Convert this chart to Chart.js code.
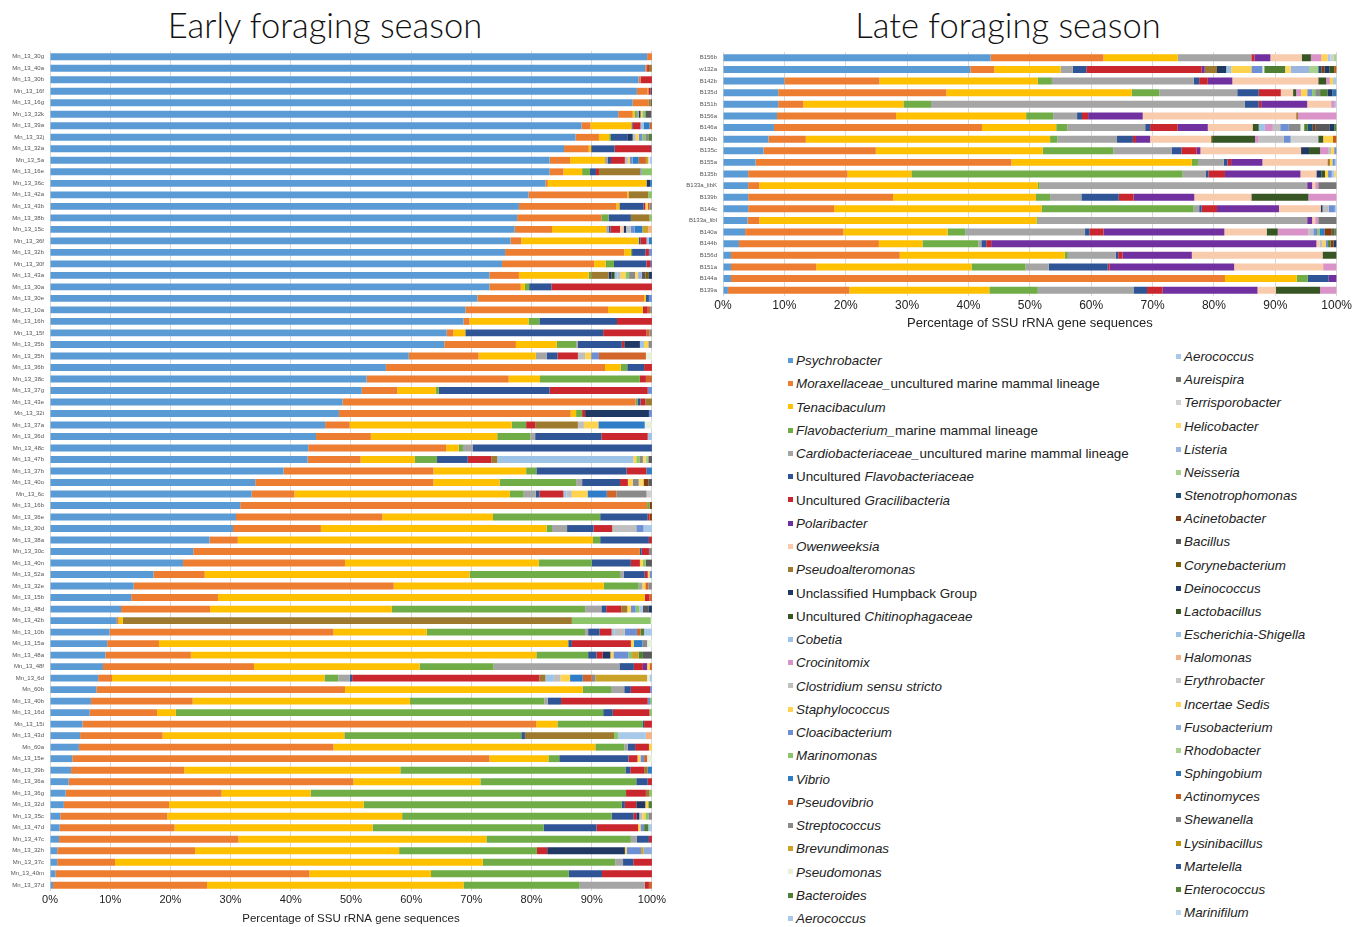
<!DOCTYPE html>
<html lang="en">
<head>
<meta charset="UTF-8" />
<title>Early and late foraging season</title>
<style>
  body { margin: 0; background: #fff; font-family: 'Helvetica Neue', 'Liberation Sans', Arial, sans-serif; color: #111; }
  .page { position: relative; width: 1361px; height: 927px; overflow: hidden; }
  h1 {
    position: absolute; top: 2px; margin: 0; width: 600px; text-align: center;
    font-family: Lato, 'Liberation Sans', sans-serif; font-weight: 300; font-size: 34.5px; line-height: 46px; color: #111;
  }
  canvas { position: absolute; }
  .legend-item { position: absolute; font-size: 13.4px; line-height: 16px; white-space: nowrap; color: #222; }
  .legend-item .sw { display: inline-block; width: 5px; height: 5px; margin-right: 3px; vertical-align: middle; position: relative; top: -1px; }
</style>
</head>
<body>
<div class="page" id="page">
  <h1 style="left:25px">Early foraging season</h1>
  <h1 style="left:708px">Late foraging season</h1>
  <canvas id="earlyChart" width="668" height="895" style="left:0;top:40px"></canvas>
  <canvas id="lateChart" width="674" height="300" style="left:680px;top:40px"></canvas>
</div>

<script src="https://cdn.jsdelivr.net/npm/chart.js"></script>
<script>
// taxa in legend order (stack order too)
const taxa = ['Psychrobacter', 'Moraxellaceae_uncultured marine mammal lineage', 'Tenacibaculum',
  'Flavobacterium_marine mammal lineage', 'Cardiobacteriaceae_uncultured marine mammal lineage',
  'Uncultured Flavobacteriaceae', 'Uncultured Gracilibacteria', 'Polaribacter', 'Owenweeksia',
  'Pseudoalteromonas', 'Unclassified Humpback Group', 'Uncultured Chitinophagaceae', 'Cobetia',
  'Crocinitomix', 'Clostridium sensu stricto', 'Staphylococcus', 'Cloacibacterium', 'Marinomonas',
  'Vibrio', 'Pseudovibrio', 'Streptococcus', 'Brevundimonas', 'Pseudomonas', 'Bacteroides',
  'Aerococcus', 'Aerococcus', 'Aureispira', 'Terrisporobacter', 'Helicobacter', 'Listeria',
  'Neisseria', 'Stenotrophomonas', 'Acinetobacter', 'Bacillus', 'Corynebacterium', 'Deinococcus',
  'Lactobacillus', 'Escherichia-Shigella', 'Halomonas', 'Erythrobacter', 'Incertae Sedis',
  'Fusobacterium', 'Rhodobacter', 'Sphingobium', 'Actinomyces', 'Shewanella', 'Lysinibacillus',
  'Martelella', 'Enterococcus', 'Marinifilum'];

const taxonColors = ['#5b9bd5', '#ed7d31', '#ffc000', '#70ad47', '#a5a5a5', '#2f5597', '#c9262d',
  '#7030a0', '#f8cbad', '#9e7a2f', '#203864', '#375623', '#9dc3e6', '#d993c8', '#bfbfbf', '#ffd34d',
  '#6f8fd4', '#8cc46a', '#2e7dc6', '#d2652a', '#8a8a8a', '#c9a227', '#e6f0dc', '#4e7f33', '#a9c9ea',
  '#a9c9ea', '#777777', '#d0d0d0', '#ffd966', '#9bb5e0', '#a9d18e', '#1f4e79', '#843c0c', '#595959',
  '#7f6000', '#1f3864', '#385723', '#9dc3e6', '#f4b183', '#c9c9c9', '#ffd34d', '#8faadc', '#a9d18e',
  '#2e75b6', '#c55a11', '#7f7f7f', '#bf9000', '#2f5597', '#548235', '#bdd7ee'];

const earlySamples = ['Mn_13_30g','Mn_13_40a','Mn_13_30b','Mn_13_16f','Mn_13_16g','Mn_13_32k','Mn_13_39a','Mn_13_32j','Mn_13_32a','Mn_13_5a',
  'Mn_13_16e','Mn_13_36c','Mn_13_42a','Mn_13_43b','Mn_13_38b','Mn_13_15c','Mn_13_36f','Mn_13_32b','Mn_13_30f','Mn_13_43a',
  'Mn_13_30a','Mn_13_30e','Mn_13_10a','Mn_13_16h','Mn_13_15f','Mn_13_35b','Mn_13_35h','Mn_13_36b','Mn_13_38c','Mn_13_37g',
  'Mn_13_43e','Mn_13_32i','Mn_13_37a','Mn_13_36d','Mn_13_48c','Mn_13_47b','Mn_13_37b','Mn_13_40o','Mn_13_6c','Mn_13_16b',
  'Mn_13_36e','Mn_13_30d','Mn_13_38a','Mn_13_30c','Mn_13_40n','Mn_13_52a','Mn_13_32e','Mn_13_15b','Mn_13_48d','Mn_13_42b',
  'Mn_13_10b','Mn_13_15a','Mn_13_48a','Mn_13_48f','Mn_13_6d','Mn_60b','Mn_13_40b','Mn_13_16d','Mn_13_15i','Mn_13_43d',
  'Mn_60a','Mn_13_15e','Mn_13_39b','Mn_13_36a','Mn_13_36g','Mn_13_32d','Mn_13_35c','Mn_13_47d','Mn_13_47c','Mn_13_32h',
  'Mn_13_37c','Mn_13_40m','Mn_13_37d'];

const earlyPsychrobacter = [99.2,98.9,97.8,97.5,96.8,94.4,88.3,87.3,85.4,83.0,
  83.0,82.3,79.5,77.9,77.6,77.2,76.5,75.6,75.1,73.0,
  73.0,71.0,69.0,68.7,65.9,65.5,59.6,55.8,52.6,51.8,
  48.6,48.0,45.7,44.2,42.9,42.8,38.8,34.1,33.5,31.6,
  30.9,30.4,26.5,23.8,22.1,17.2,13.9,13.5,11.8,11.1,
  9.9,9.5,9.2,8.8,8.0,7.7,6.8,6.6,5.4,5.0,
  4.8,3.7,3.5,3.1,2.6,2.3,1.7,1.6,1.5,1.2,
  1.2,0.9,0.5];
const earlyMoraxellaceae = [0.8,0.3,0.3,1.8,2.6,2.4,1.5,3.9,4.1,3.4,
  2.3,0.4,16.4,16.2,14.0,6.2,1.8,19.8,15.3,4.9,
  5.2,27.7,23.7,1.0,1.1,11.9,11.6,36.4,23.6,5.9,
  48.7,38.5,4.1,9.1,22.9,8.8,24.9,29.6,7.1,67.6,
  24.3,14.6,4.7,74.2,26.9,8.5,43.2,14.4,14.8,0.3,
  37.2,8.6,14.2,25.1,2.3,41.3,16.9,11.2,75.4,13.7,
  42.3,69.3,18.8,47.3,25.9,17.5,17.8,19.1,29.8,22.9,
  9.6,42.2,25.6];
const earlyTenacibaculum = [0,0,0,0.1,0,0.3,6.8,1.7,0.4,5.8,
  3.1,16.4,0.2,0.5,0,9.0,19.5,1.1,1.9,11.6,
  0.7,0.3,5.8,9.8,2.0,6.8,9.5,2.6,5.2,6.4,
  0,0.9,26.9,21.0,2.1,9.0,15.4,11.0,35.8,0,
  18.4,37.5,59.0,0,32.2,44.0,34.9,70.9,30.2,0.7,
  15.5,68.0,57.4,27.5,35.3,39.5,36.1,3.1,3.5,30.2,
  43.5,9.8,35.9,21.1,14.8,32.3,39.0,32.9,41.2,33.9,
  61.1,20.2,42.6];
const earlyFlavobacterium = [0,0,0,0,0,0.4,0,0.3,0,0,
  1.3,0,0,0,1.2,0,0,0.2,1.4,0.4,
  0.7,0,0,1.8,0,3.2,0,1.1,16.6,0.5,
  0.3,1.0,2.4,5.5,0.7,3.7,1.7,12.7,2.3,0.4,
  17.8,0.9,1.2,0,8.8,25.0,5.8,0,32.1,0,
  26.3,0,8.6,12.3,2.3,4.7,22.3,71.0,14.2,29.4,
  4.8,1.8,37.4,25.9,52.4,42.9,34.8,28.4,24.0,22.9,
  22.0,22.9,19.3];
const earlyCardiobacteriaceae = [0,0,0,0,0,0.3,0,0,0,0.5,
  0,0,0,0,0,0.4,0,0,0,0,
  0,0,0,0,0,0.3,1.8,0,0,0,
  0,0,0,0.8,1.6,0,0,1.0,2.0,0,
  0,2.5,0,0,0,0.6,0.6,0,2.7,0,
  0.5,0,0,20.9,1.9,2.2,0.6,0,0,0,
  0.6,0,0,0,0,0,0,0,1.0,0,
  1.3,0,10.8];
const earlyUncFlavobacteriaceae = [0,0,0,0,0,0,0.2,2.7,3.9,0.5,
  1.0,0,0,4.0,3.7,0.3,0.3,2.2,5.4,0,
  3.7,0.5,0,12.9,22.9,7.3,1.8,2.8,0,18.4,
  0.5,0,0,11.0,29.8,5.1,15.0,6.3,0.6,0,
  7.9,4.4,8.1,0.3,6.5,3.5,0,0,0.8,0,
  1.9,0.6,1.4,2.4,0.4,1.1,2.2,1.6,0.2,0.6,
  1.2,11.5,0.8,1.9,0,0.5,3.6,8.8,2.0,0,
  1.7,5.5,0];
const earlyGracilibacteria = [0,0.3,1.9,0.4,0,0,1.3,0,6.1,2.3,
  0.5,0,0,0.3,0,1.6,1.0,0.6,0.7,0,
  16.7,0,0.8,5.8,7.2,0.4,3.4,1.3,1.0,16.3,
  0.8,0.5,1.5,7.7,0,3.9,3.3,1.3,4.0,0,
  0.3,3.1,0.5,1.2,1.5,0.5,0,0.8,2.5,0,
  2.0,9.8,1.0,1.5,31.1,3.2,14.4,6.1,1.3,0,
  2.3,1.5,2.3,0.7,3.3,1.9,0.5,6.9,0.5,1.7,
  3.1,8.3,0.7];
const earlyPseudoalteromonas = [0,0.5,0,0,0.4,0,0,0,0,0,
  6.9,0,3.3,0,3.1,0,0,0,0,2.9,
  0,0,0,0,0,0,0,0,0,0,
  1.1,0,7.1,0,0,1.0,0,0,0,0,
  0,0,0,0,0,0,0,0,1.0,74.6,
  0,0,0,0,1.0,0,0,0,0,14.8,
  0,0,0.6,0,0.6,0,0,0,0,0,
  0,0,0];
const earlyHumpback = [0,0,0,0,0,0.3,0,0.9,0,0,
  0,0.6,0,0,0,0.4,0,0,0,0.5,
  0,0,0,0,0,2.6,0,0,0,0,
  0,10.6,0,0,0,0,0,0,0,0,
  0,0,0,0,0,0,0,0,0,0,
  0,0,1.3,0,0,0,0,0,0,0,
  0,0,0,0,0,1.5,0.5,0,0,12.9,
  0,0,0];

// small slivers: [sample, taxon, percent]
const earlyMinor = [
  ['Mn_13_16f','Stenotrophomonas',0.2], ['Mn_13_16g','Bacillus',0.2],
  ['Mn_13_32k','Staphylococcus',0.3], ['Mn_13_32k','Marinomonas',0.5], ['Mn_13_32k','Bacillus',1.0],
  ['Mn_13_39a','Cobetia',0.5], ['Mn_13_39a','Vibrio',1.0], ['Mn_13_39a','Pseudovibrio',0.4],
  ['Mn_13_32j','Clostridium sensu stricto',0.5], ['Mn_13_32j','Staphylococcus',0.5], ['Mn_13_32j','Cloacibacterium',0.6],
  ['Mn_13_32j','Marinomonas',0.5], ['Mn_13_32j','Streptococcus',0.6], ['Mn_13_32j','Bacteroides',0.5],
  ['Mn_13_32a','Vibrio',0.1],
  ['Mn_13_5a','Clostridium sensu stricto',0.5], ['Mn_13_5a','Staphylococcus',0.3], ['Mn_13_5a','Cloacibacterium',0.5],
  ['Mn_13_5a','Vibrio',1.0], ['Mn_13_5a','Pseudovibrio',1.2], ['Mn_13_5a','Brevundimonas',0.4],
  ['Mn_13_5a','Pseudomonas',0.2], ['Mn_13_5a','Aerococcus',0.4],
  ['Mn_13_16e','Cloacibacterium',0.2], ['Mn_13_16e','Marinomonas',1.7],
  ['Mn_13_36c','Vibrio',0.3], ['Mn_13_42a','Marinomonas',0.6],
  ['Mn_13_43b','Staphylococcus',0.4], ['Mn_13_43b','Pseudovibrio',0.3], ['Mn_13_43b','Streptococcus',0.4],
  ['Mn_13_38b','Marinomonas',0.4],
  ['Mn_13_15c','Owenweeksia',0.6], ['Mn_13_15c','Clostridium sensu stricto',0.8], ['Mn_13_15c','Cloacibacterium',0.6],
  ['Mn_13_15c','Vibrio',1.3], ['Mn_13_15c','Brevundimonas',1.0], ['Mn_13_15c','Halomonas',0.6],
  ['Mn_13_36f','Cobetia',0.4], ['Mn_13_36f','Vibrio',0.5],
  ['Mn_13_32b','Cloacibacterium',0.5], ['Mn_13_30f','Vibrio',0.2],
  ['Mn_13_43a','Uncultured Chitinophagaceae',0.5], ['Mn_13_43a','Cobetia',0.5], ['Mn_13_43a','Clostridium sensu stricto',0.5],
  ['Mn_13_43a','Staphylococcus',0.8], ['Mn_13_43a','Marinomonas',0.6], ['Mn_13_43a','Streptococcus',1.0],
  ['Mn_13_43a','Helicobacter',0.5], ['Mn_13_43a','Listeria',0.6], ['Mn_13_43a','Bacillus',0.6],
  ['Mn_13_43a','Corynebacterium',0.5], ['Mn_13_43a','Deinococcus',0.6],
  ['Mn_13_30e','Cloacibacterium',0.5],
  ['Mn_13_10a','Pseudovibrio',0.4], ['Mn_13_10a','Streptococcus',0.3],
  ['Mn_13_15f','Pseudovibrio',0.5], ['Mn_13_15f','Streptococcus',0.4],
  ['Mn_13_35b','Cobetia',0.7], ['Mn_13_35b','Staphylococcus',0.7], ['Mn_13_35b','Streptococcus',0.6],
  ['Mn_13_35h','Clostridium sensu stricto',1.2], ['Mn_13_35h','Staphylococcus',1.0], ['Mn_13_35h','Cloacibacterium',1.3],
  ['Mn_13_35h','Pseudovibrio',7.8], ['Mn_13_35h','Pseudomonas',1.0],
  ['Mn_13_38c','Pseudovibrio',1.0], ['Mn_13_37g','Cloacibacterium',0.7], ['Mn_13_32i','Cloacibacterium',0.5],
  ['Mn_13_37a','Clostridium sensu stricto',1.0], ['Mn_13_37a','Staphylococcus',2.4], ['Mn_13_37a','Vibrio',7.7],
  ['Mn_13_37a','Pseudomonas',1.2],
  ['Mn_13_36d','Cobetia',0.7],
  ['Mn_13_47b','Cobetia',22.6], ['Mn_13_47b','Staphylococcus',0.5], ['Mn_13_47b','Marinomonas',0.6],
  ['Mn_13_47b','Streptococcus',0.5], ['Mn_13_47b','Helicobacter',0.5], ['Mn_13_47b','Neisseria',0.4], ['Mn_13_47b','Bacillus',0.6],
  ['Mn_13_37b','Vibrio',0.9],
  ['Mn_13_40o','Staphylococcus',0.8], ['Mn_13_40o','Streptococcus',1.0], ['Mn_13_40o','Helicobacter',0.8],
  ['Mn_13_40o','Acinetobacter',0.8], ['Mn_13_40o','Bacillus',0.6],
  ['Mn_13_6c','Cobetia',0.5], ['Mn_13_6c','Clostridium sensu stricto',0.9], ['Mn_13_6c','Staphylococcus',2.6],
  ['Mn_13_6c','Vibrio',3.2], ['Mn_13_6c','Pseudovibrio',1.6], ['Mn_13_6c','Streptococcus',5.0], ['Mn_13_6c','Terrisporobacter',0.9],
  ['Mn_13_16b','Acinetobacter',0.4], ['Mn_13_36e','Acinetobacter',0.4],
  ['Mn_13_30d','Clostridium sensu stricto',4.0], ['Mn_13_30d','Cloacibacterium',1.2], ['Mn_13_30d','Aerococcus',1.4],
  ['Mn_13_30c','Streptococcus',0.5],
  ['Mn_13_40n','Staphylococcus',0.5], ['Mn_13_40n','Marinomonas',0.5], ['Mn_13_40n','Bacillus',1.0],
  ['Mn_13_52a','Staphylococcus',0.3], ['Mn_13_52a','Cloacibacterium',0.4],
  ['Mn_13_32e','Staphylococcus',0.5], ['Mn_13_32e','Pseudovibrio',0.5], ['Mn_13_32e','Streptococcus',0.6],
  ['Mn_13_15b','Pseudovibrio',0.4],
  ['Mn_13_48d','Staphylococcus',0.6], ['Mn_13_48d','Cloacibacterium',0.8], ['Mn_13_48d','Marinomonas',0.6],
  ['Mn_13_48d','Aerococcus',0.6], ['Mn_13_48d','Bacillus',0.9], ['Mn_13_48d','Deinococcus',0.6],
  ['Mn_13_42b','Marinomonas',13.1], ['Mn_13_42b','Pseudomonas',0.2],
  ['Mn_13_10b','Cobetia',0.5], ['Mn_13_10b','Clostridium sensu stricto',1.7], ['Mn_13_10b','Cloacibacterium',2.0],
  ['Mn_13_10b','Pseudovibrio',0.6], ['Mn_13_10b','Bacteroides',0.6], ['Mn_13_10b','Aerococcus',1.3],
  ['Mn_13_15a','Staphylococcus',0.5], ['Mn_13_15a','Vibrio',1.4], ['Mn_13_15a','Streptococcus',0.8], ['Mn_13_15a','Pseudomonas',0.8],
  ['Mn_13_48a','Staphylococcus',0.5], ['Mn_13_48a','Cloacibacterium',2.5], ['Mn_13_48a','Marinomonas',0.6],
  ['Mn_13_48a','Brevundimonas',1.1], ['Mn_13_48a','Bacteroides',0.7], ['Mn_13_48a','Bacillus',1.5],
  ['Mn_13_48f','Polaribacter',0.7], ['Mn_13_48f','Staphylococcus',0.4], ['Mn_13_48f','Pseudovibrio',0.4],
  ['Mn_13_6d','Cobetia',1.4], ['Mn_13_6d','Clostridium sensu stricto',1.1], ['Mn_13_6d','Staphylococcus',1.6],
  ['Mn_13_6d','Vibrio',2.1], ['Mn_13_6d','Pseudovibrio',1.5], ['Mn_13_6d','Streptococcus',0.6],
  ['Mn_13_6d','Brevundimonas',8.6], ['Mn_13_6d','Pseudomonas',0.4], ['Mn_13_6d','Aerococcus',0.4],
  ['Mn_60b','Cloacibacterium',0.3],
  ['Mn_13_40b','Cloacibacterium',0.4], ['Mn_13_40b','Marinomonas',0.3], ['Mn_13_16d','Marinomonas',0.4],
  ['Mn_13_43d','Marinomonas',0.7], ['Mn_13_43d','Aerococcus',4.6], ['Mn_13_43d','Halomonas',1.0],
  ['Mn_60a','Staphylococcus',0.5],
  ['Mn_13_15e','Staphylococcus',0.5], ['Mn_13_15e','Cloacibacterium',0.6], ['Mn_13_15e','Pseudovibrio',0.5], ['Mn_13_15e','Pseudomonas',0.8],
  ['Mn_13_39b','Vibrio',0.7], ['Mn_13_36g','Marinomonas',0.4],
  ['Mn_13_32d','Staphylococcus',0.5], ['Mn_13_32d','Bacteroides',0.6],
  ['Mn_13_35c','Clostridium sensu stricto',0.5], ['Mn_13_35c','Staphylococcus',0.5], ['Mn_13_35c','Marinomonas',0.5], ['Mn_13_35c','Streptococcus',0.6],
  ['Mn_13_47d','Staphylococcus',0.4], ['Mn_13_47d','Cloacibacterium',0.6], ['Mn_13_47d','Bacteroides',0.7], ['Mn_13_47d','Aerococcus',0.6],
  ['Mn_13_32h','Staphylococcus',0.3], ['Mn_13_32h','Cloacibacterium',2.4], ['Mn_13_32h','Brevundimonas',0.4], ['Mn_13_32h','Fusobacterium',1.4],
  ['Mn_13_37d','Pseudovibrio',0.5]
];

const lateSamples = ['B156b','w132a','B142b','B135d','B151b','B156a','B146a','B140b','B135c','B155a','B135b',
  'B133a_libK','B139b','B144c','B133a_libl','B140a','B144b','B156d','B151a','B144a','B139a'];

const latePsychrobacter = [43.6,40.3,10.0,9.0,9.0,8.8,8.3,7.4,6.6,5.3,4.1,4.1,4.1,4.1,4.0,3.6,2.6,1.3,1.3,1.3,0.8];
const lateMoraxellaceae = [18.4,3.9,15.5,27.4,4.1,19.4,33.9,6.1,18.3,41.7,16.2,1.8,23.6,14.0,1.9,16.0,22.8,27.5,13.9,80.5,19.8];
const lateTenacibaculum = [12.1,10.8,25.8,30.2,16.3,21.2,12.1,39.8,27.2,29.4,10.4,45.4,23.3,33.8,45.2,17.0,7.1,26.9,25.3,11.7,22.8];
const lateFlavobacterium = [0,0,2.3,4.5,4.5,4.4,1.8,1.2,11.5,1.0,44.2,0.3,2.3,24.8,0.2,2.9,9.1,0.5,8.8,1.8,7.9];
const lateCardiobacteriaceae = [12.0,2.0,23.1,12.7,51.1,3.9,12.7,9.7,9.5,4.2,3.8,43.6,5.1,0.9,43.9,19.5,0.5,7.8,3.8,0,15.6];
const lateUncFlavobacteriaceae = [0,2.2,0.9,3.5,2.3,0.8,0.8,2.6,1.6,0.6,0.4,0,6.1,0.4,0,0.7,0.8,0.4,9.6,3.4,2.2];
const lateGracilibacteria = [0.5,18.8,1.4,3.6,0.4,1.0,4.5,0.5,2.5,0.6,2.7,0,2.4,2.5,0,2.3,0.8,0.7,0.3,0,2.5];
const latePolaribacter = [2.6,0.5,4.0,0,7.5,8.9,4.9,2.3,0.6,5.1,12.3,0.8,9.9,10.1,0.8,19.7,53.0,11.3,20.3,1.3,15.5];
const lateOwenweeksia = [5.1,0,14.0,2.0,3.9,25.0,7.3,9.9,16.4,10.6,2.6,0.5,9.3,6.8,0.5,6.9,0.5,21.3,14.5,0,3.0];
const lateChitinophagaceae = [1.5,0,1.3,0.5,0,0,1.0,7.0,1.8,0,0.6,0,9.3,0,0,1.8,0,2.3,0,0,7.2];
const lateCrocinitomix = [1.7,0,0.6,0.8,0.6,6.3,1.3,0.6,1.3,0,0,0.5,4.6,0,0.5,5.0,0,0,2.2,0,2.7];

const lateMinor = [
  ['B156b','Staphylococcus',1.0], ['B156b','Aerococcus',0.5], ['B156b','Terrisporobacter',0.5], ['B156b','Neisseria',0.5],
  ['w132a','Pseudoalteromonas',2.0], ['w132a','Unclassified Humpback Group',1.5], ['w132a','Cobetia',0.8],
  ['w132a','Staphylococcus',3.3], ['w132a','Cloacibacterium',1.8], ['w132a','Pseudomonas',0.3], ['w132a','Bacteroides',3.4],
  ['w132a','Helicobacter',0.9], ['w132a','Listeria',3.0], ['w132a','Neisseria',1.5], ['w132a','Stenotrophomonas',0.5],
  ['w132a','Acinetobacter',0.5], ['w132a','Deinococcus',0.8], ['w132a','Lactobacillus',0.8], ['w132a','Actinomyces',0.4],
  ['B142b','Staphylococcus',0.5], ['B142b','Aerococcus',0.6],
  ['B135d','Staphylococcus',1.0], ['B135d','Cloacibacterium',0.8], ['B135d','Marinomonas',0.5], ['B135d','Streptococcus',0.8],
  ['B135d','Bacteroides',1.2], ['B135d','Deinococcus',0.8], ['B135d','Sphingobium',0.7],
  ['B151b','Aerococcus',0.3], ['B156a','Pseudoalteromonas',0.3],
  ['B146a','Cobetia',1.0], ['B146a','Clostridium sensu stricto',1.2], ['B146a','Cloacibacterium',1.4], ['B146a','Streptococcus',1.9],
  ['B146a','Pseudomonas',0.6], ['B146a','Bacteroides',0.6], ['B146a','Stenotrophomonas',0.8], ['B146a','Acinetobacter',0.4],
  ['B146a','Bacillus',2.3], ['B146a','Deinococcus',0.8], ['B146a','Enterococcus',0.4],
  ['B140b','Pseudoalteromonas',0.2], ['B140b','Clostridium sensu stricto',4.1], ['B140b','Cloacibacterium',1.1],
  ['B140b','Terrisporobacter',4.5], ['B140b','Lactobacillus',0.8], ['B140b','Incertae Sedis',1.6], ['B140b','Actinomyces',0.6],
  ['B135c','Unclassified Humpback Group',1.3], ['B135c','Clostridium sensu stricto',0.5], ['B135c','Staphylococcus',0.5], ['B135c','Cloacibacterium',0.4],
  ['B155a','Pseudoalteromonas',0.4], ['B155a','Staphylococcus',0.4], ['B155a','Cloacibacterium',0.4], ['B155a','Aerococcus',0.3],
  ['B135b','Unclassified Humpback Group',0.8], ['B135b','Staphylococcus',0.5], ['B135b','Cloacibacterium',0.6],
  ['B135b','Aerococcus',0.4], ['B135b','Helicobacter',0.4],
  ['B133a_libK','Aureispira',3.0],
  ['B144c','Unclassified Humpback Group',0.3], ['B144c','Clostridium sensu stricto',1.0], ['B144c','Cloacibacterium',1.0], ['B144c','Aerococcus',0.3],
  ['B133a_libl','Aureispira',3.0],
  ['B140a','Clostridium sensu stricto',0.8], ['B140a','Cloacibacterium',0.6], ['B140a','Marinomonas',0.4], ['B140a','Vibrio',0.8],
  ['B140a','Acinetobacter',1.2], ['B140a','Bacillus',0.4], ['B140a','Enterococcus',0.4],
  ['B144b','Clostridium sensu stricto',0.5], ['B144b','Staphylococcus',0.5], ['B144b','Cloacibacterium',0.4],
  ['B144b','Bacteroides',0.4], ['B144b','Acinetobacter',0.5], ['B144b','Deinococcus',0.5]
];

const axisTitle = 'Percentage of SSU rRNA gene sequences';

function buildDatasets(samples, main, minor) {
  const rows = taxa.map(() => samples.map(() => 0));
  Object.keys(main).forEach(name => { rows[taxa.indexOf(name)] = main[name].slice(); });
  minor.forEach(([s, name, v]) => { rows[taxa.indexOf(name)][samples.indexOf(s)] += v; });
  return taxa.map((name, i) => ({
    label: name,
    data: rows[i],
    backgroundColor: taxonColors[i],
    borderWidth: 0,
    barPercentage: 0.6,
    categoryPercentage: 1
  })).filter(d => d.data.some(v => v > 0));
}

Chart.defaults.font.family = "'Helvetica Neue', 'Liberation Sans', Arial, sans-serif";
Chart.defaults.color = '#222';

function makeChart(id, samples, datasets, cfg) {
  return new Chart(document.getElementById(id), {
    type: 'bar',
    data: { labels: samples, datasets: datasets },
    options: {
      indexAxis: 'y',
      responsive: false,
      animation: false,
      layout: { padding: { top: cfg.padTop, right: 0, left: 0, bottom: 0 } },
      plugins: { legend: { display: false }, tooltip: { enabled: false } },
      scales: {
        x: {
          stacked: true, min: 0, max: 100,
          grid: { color: '#d9d9d9', drawTicks: false },
          border: { display: false },
          ticks: { stepSize: 10, padding: 2, font: { size: cfg.tickSize }, color: '#222', callback: v => v + '%' },
          title: { display: true, text: axisTitle, font: { size: cfg.titleSize }, color: '#222', padding: { top: 0, bottom: cfg.titlePad } },
          afterFit: s => { s.height = cfg.xHeight; }
        },
        y: {
          stacked: true,
          grid: { display: false, drawTicks: false },
          border: { display: false },
          ticks: { autoSkip: false, padding: 6, font: { size: 6 }, color: '#555' },
          afterFit: s => { s.width = cfg.yWidth; }
        }
      }
    }
  });
}

const earlyDatasets = buildDatasets(earlySamples, {
  'Psychrobacter': earlyPsychrobacter,
  'Moraxellaceae_uncultured marine mammal lineage': earlyMoraxellaceae,
  'Tenacibaculum': earlyTenacibaculum,
  'Flavobacterium_marine mammal lineage': earlyFlavobacterium,
  'Cardiobacteriaceae_uncultured marine mammal lineage': earlyCardiobacteriaceae,
  'Uncultured Flavobacteriaceae': earlyUncFlavobacteriaceae,
  'Uncultured Gracilibacteria': earlyGracilibacteria,
  'Pseudoalteromonas': earlyPseudoalteromonas,
  'Unclassified Humpback Group': earlyHumpback
}, earlyMinor);

const lateDatasets = buildDatasets(lateSamples, {
  'Psychrobacter': latePsychrobacter,
  'Moraxellaceae_uncultured marine mammal lineage': lateMoraxellaceae,
  'Tenacibaculum': lateTenacibaculum,
  'Flavobacterium_marine mammal lineage': lateFlavobacterium,
  'Cardiobacteriaceae_uncultured marine mammal lineage': lateCardiobacteriaceae,
  'Uncultured Flavobacteriaceae': lateUncFlavobacteriaceae,
  'Uncultured Gracilibacteria': lateGracilibacteria,
  'Polaribacter': latePolaribacter,
  'Owenweeksia': lateOwenweeksia,
  'Uncultured Chitinophagaceae': lateChitinophagaceae,
  'Crocinitomix': lateCrocinitomix
}, lateMinor);

makeChart('earlyChart', earlySamples, earlyDatasets,
  { padTop: 11, tickSize: 11, titleSize: 11.5, titlePad: 9, xHeight: 44, yWidth: 50 });
makeChart('lateChart', lateSamples, lateDatasets,
  { padTop: 12, tickSize: 12, titleSize: 13, titlePad: 9, xHeight: 44, yWidth: 43 });

// legend, two columns
function legendLabel(name) {
  if (name === 'Unclassified Humpback Group') return name;
  if (name.indexOf('Uncultured ') === 0) return 'Uncultured <i>' + name.slice(11) + '</i>';
  const u = name.indexOf('_');
  if (u > 0) return '<i>' + name.slice(0, u + 1) + '</i>' + name.slice(u + 1);
  return '<i>' + name + '</i>';
}

const page = document.getElementById('page');
taxa.forEach((name, i) => {
  const col = i < 25 ? 0 : 1;
  const row = col ? i - 25 : i;
  const el = document.createElement('div');
  el.className = 'legend-item';
  el.style.left = (col ? 1176 : 788) + 'px';
  el.style.top = ((col ? 357 : 361) - 8 + row * (col ? 23.17 : 23.25)) + 'px';
  el.innerHTML = '<span class="sw" style="background:' + taxonColors[i] + '"></span>' + legendLabel(name);
  page.appendChild(el);
});
</script>
</body>
</html>
